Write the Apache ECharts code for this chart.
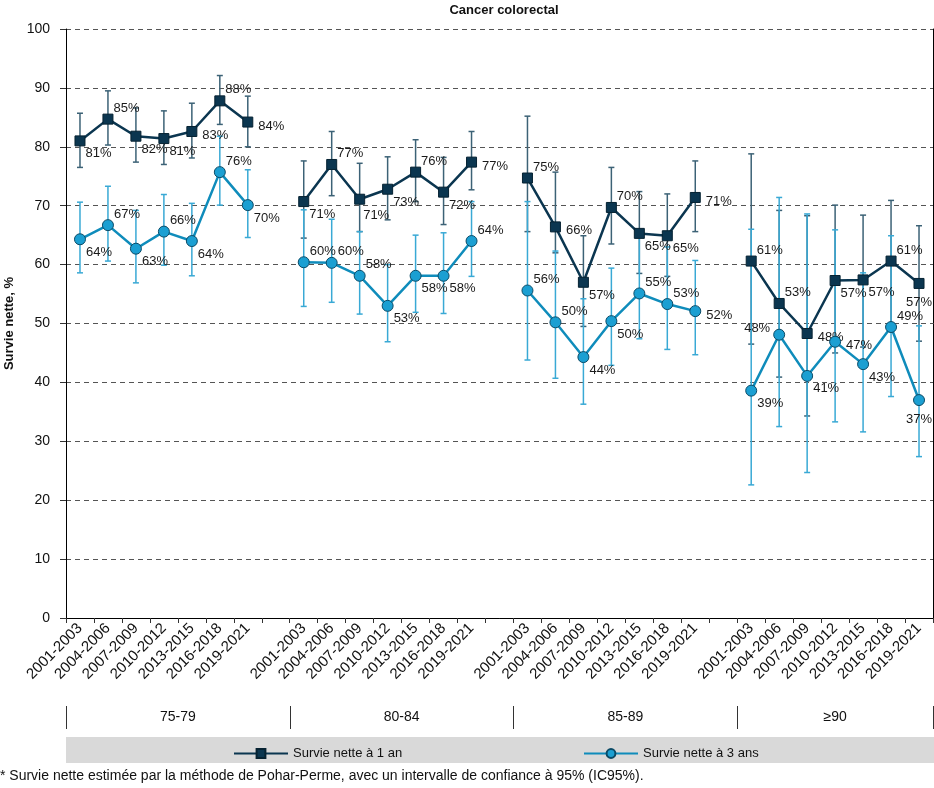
<!DOCTYPE html>
<html><head><meta charset="utf-8">
<script src="https://cdn.jsdelivr.net/npm/echarts@6/dist/echarts.min.js"></script>
<style>html,body{margin:0;padding:0;background:#fff}#c{width:934px;height:788px}</style>
</head><body><div id="c"></div>
<script>
// ---------- DATA ----------
const periods = ['2001-2003','2004-2006','2007-2009','2010-2012','2013-2015','2016-2018','2019-2021'];
const ageGroups = ['75-79','80-84','85-89','≥90'];
const yTicks = [0,10,20,30,40,50,60,70,80,90,100];

// Survie nette à 1 an (per age group)
const surv1 = [
  [81.0, 84.7, 81.8, 81.4, 82.6, 87.8, 84.2],
  [70.7, 77.0, 71.1, 72.8, 75.7, 72.3, 77.4],
  [74.7, 66.4, 57.0, 69.7, 65.3, 64.9, 71.4],
  [60.6, 53.4, 48.3, 57.3, 57.4, 60.6, 56.8]
];
const surv1Low = [
  [76.5, 80.3, 77.4, 77.0, 78.1, 83.8, 80.0],
  [64.5, 71.7, 65.6, 67.6, 70.7, 66.8, 72.7],
  [65.6, 62.0, 49.5, 63.5, 58.5, 58.0, 65.6],
  [46.5, 40.9, 34.3, 45.0, 46.0, 50.0, 47.0]
];
const surv1High = [
  [85.7, 89.5, 86.6, 86.1, 87.4, 92.1, 88.6],
  [77.6, 82.6, 77.2, 78.3, 81.2, 78.2, 82.6],
  [85.2, 75.7, 64.9, 76.5, 72.4, 72.0, 77.6],
  [78.8, 69.2, 68.3, 70.1, 68.4, 70.9, 66.6]
];
// Survie nette à 3 ans
const surv3 = [
  [64.3, 66.7, 62.7, 65.6, 64.0, 75.7, 70.1],
  [60.4, 60.3, 58.1, 53.0, 58.1, 58.1, 64.0],
  [55.6, 50.2, 44.3, 50.4, 55.1, 53.3, 52.1],
  [38.6, 48.1, 41.1, 46.9, 43.1, 49.4, 37.0]
];
const surv3Low = [
  [58.6, 60.6, 56.9, 59.9, 58.1, 70.1, 64.6],
  [52.9, 53.6, 51.6, 46.9, 51.9, 51.7, 58.0],
  [43.8, 40.7, 36.3, 42.9, 47.4, 45.6, 44.7],
  [22.6, 32.5, 24.7, 33.3, 31.6, 37.6, 27.4]
];
const surv3High = [
  [70.6, 73.3, 69.2, 71.9, 70.4, 81.8, 76.1],
  [69.3, 67.7, 65.6, 60.0, 65.0, 65.4, 70.7],
  [70.7, 62.3, 54.2, 59.4, 65.0, 63.0, 60.7],
  [66.0, 71.4, 68.6, 65.9, 58.6, 64.9, 49.6]
];

// ---------- STYLE (label placement per point) ----------
const place1 = [
  ['br','tr','br','br','r','tr','r'],
  ['br','tr','b2','br','tr','br','r'],
  ['tr','r','br','tr','br','br','r'],
  ['tr','tr','r','br','br','tr','b']
];
const place3 = [
  ['br','tr','br','tr','br','tr','br'],
  ['tr','tr','tr','br','br','br','tr'],
  ['tr','tr','br','br','tr','tr','r'],
  ['br','l','br','r','br','tr','b']
];
const offsets = {
  tr: {position:'right', offset:[-5,-11]},
  br: {position:'right', offset:[-5,13]},
  b2: {position:'right', offset:[-7,16]},
  r:  {position:'right', offset:[0,4]},
  b:  {position:'bottom', offset:[0,2]},
  l:  {position:'left', offset:[2,-6]}
};

// ---------- BUILD ----------
const categories = [];
ageGroups.forEach((g,gi)=>{ periods.forEach(p=>categories.push(p)); if(gi<ageGroups.length-1) categories.push(''); });

function flat(groups, placeArr){
  const out=[];
  groups.forEach((arr,gi)=>{
    arr.forEach((v,i)=>{
      const pl = offsets[placeArr[gi][i]];
      out.push({value:v, label:{position:pl.position, offset:pl.offset}});
    });
    if(gi<groups.length-1) out.push(null);
  });
  return out;
}
function errData(lo, hi){
  const out=[]; let idx=0;
  lo.forEach((arr,gi)=>{
    arr.forEach((v,i)=>{ out.push([idx, v, hi[gi][i]]); idx++; });
    idx++;
  });
  return out;
}

const C1='#0b3650', C1e='#3c6276', C3='#0f8cbb', C3e='#39a9d5', C3f='#1b9fd2';
const font = '"Liberation Sans",Arial,sans-serif';

function errRender(color){
  return function(params, api){
    const x = api.value(0);
    const p1 = api.coord([x, api.value(1)]);
    const p2 = api.coord([x, api.value(2)]);
    const w = 3;
    return {type:'group', children:[
      {type:'line', shape:{x1:p1[0],y1:p1[1],x2:p2[0],y2:p2[1]}, style:{stroke:color,lineWidth:1.5}},
      {type:'line', shape:{x1:p1[0]-w,y1:p1[1],x2:p1[0]+w,y2:p1[1]}, style:{stroke:color,lineWidth:1.5}},
      {type:'line', shape:{x1:p2[0]-w,y1:p2[1],x2:p2[0]+w,y2:p2[1]}, style:{stroke:color,lineWidth:1.5}}
    ]};
  };
}

const GL=66, GR=1, GT=29, GB=170;
const chart = echarts.init(document.getElementById('c'), null, {renderer:'canvas'});
const lblStyle = {show:true, fontFamily:font, fontSize:13, color:'#1a1a1a', formatter:p=>Math.round(p.value)+'%'};

const option = {
  animation:false,
  textStyle:{fontFamily:font},
  title:{text:'Cancer colorectal', left:499, textAlign:'center', top:-1,
    textStyle:{fontFamily:font, fontSize:13, fontWeight:'bold', color:'#111'}},
  grid:{left:GL, right:GR, top:GT, bottom:GB, containLabel:false, outerBoundsMode:'none'},
  legend:[
    {data:['Survie nette à 1 an'], left:228, top:742, itemWidth:54, itemHeight:11, itemGap:0,
      textStyle:{fontFamily:font, fontSize:13, color:'#111'}},
    {data:['Survie nette à 3 ans'], left:578, top:742, itemWidth:54, itemHeight:11, itemGap:0,
      textStyle:{fontFamily:font, fontSize:13, color:'#111'}}
  ],
  xAxis:{type:'category', data:categories, boundaryGap:true,
    axisLine:{lineStyle:{color:'#000', width:1}},
    axisTick:{show:true, length:5, lineStyle:{color:'#333'}},
    axisLabel:{interval:0, rotate:45, fontFamily:font, fontSize:15, color:'#111', margin:8},
    splitLine:{show:false}},
  yAxis:[
    {type:'value', min:0, max:100, interval:10,
      name:'Survie nette, %', nameLocation:'middle', nameGap:48,
      nameTextStyle:{fontFamily:font, fontSize:13, fontWeight:'bold', color:'#111'},
      axisLine:{show:true, lineStyle:{color:'#000'}},
      axisTick:{show:true, length:6, lineStyle:{color:'#333'}},
      axisLabel:{fontFamily:font, fontSize:14, color:'#111', margin:16},
      splitLine:{show:true, lineStyle:{color:'#555', type:[5,4], width:1}}},
    {type:'value', min:0, max:100, interval:10, position:'right',
      axisLine:{show:true, lineStyle:{color:'#000'}}, axisTick:{show:false}, axisLabel:{show:false}, splitLine:{show:false}}
  ],
  series:[
    {type:'custom', name:'err1', renderItem:errRender(C1e), data:errData(surv1Low, surv1High), z:1, silent:true, encode:{x:0,y:[1,2]}},
    {type:'custom', name:'err3', renderItem:errRender(C3e), data:errData(surv3Low, surv3High), z:2, silent:true, encode:{x:0,y:[1,2]}},
    {type:'line', name:'Survie nette à 1 an', data:flat(surv1, place1), z:3,
      symbol:'rect', symbolSize:10, connectNulls:false,
      lineStyle:{color:C1, width:2.5}, itemStyle:{color:C1, borderColor:'#062232', borderWidth:1},
      label:lblStyle},
    {type:'line', name:'Survie nette à 3 ans', data:flat(surv3, place3), z:4,
      symbol:'circle', symbolSize:11, connectNulls:false,
      lineStyle:{color:C3, width:2.5}, itemStyle:{color:C3f, borderColor:'#0a4a66', borderWidth:1},
      label:lblStyle}
  ]
};
chart.setOption(option);

// group labels, separators and legend band
const W = 934 - GL - GR;
const band = W / categories.length;
const bounds = [0, 8, 16, 24, categories.length];
const g = [];
g.push({type:'rect', z:-1, shape:{x:GL, y:737, width:934-GL, height:26}, style:{fill:'#d9d9d9'}});
bounds.forEach(b=>{
  const x = Math.round(GL + b*band) + 0.5;
  g.push({type:'line', shape:{x1:x, y1:706, x2:x, y2:729}, style:{stroke:'#333', lineWidth:1}});
});
ageGroups.forEach((name,i)=>{
  const x = GL + (bounds[i]+bounds[i+1])/2*band;
  g.push({type:'text', x:x, y:717, style:{text:name, fontFamily:font, fontSize:14, fill:'#111', align:'center', verticalAlign:'middle'}});
});
g.push({type:'text', x:0, y:776, style:{text:'* Survie nette estimée par la méthode de Pohar-Perme, avec un intervalle de confiance à 95% (IC95%).',
  fontFamily:font, fontSize:14, fill:'#111', align:'left', verticalAlign:'middle'}});
chart.setOption({graphic:g});
</script></body></html>
